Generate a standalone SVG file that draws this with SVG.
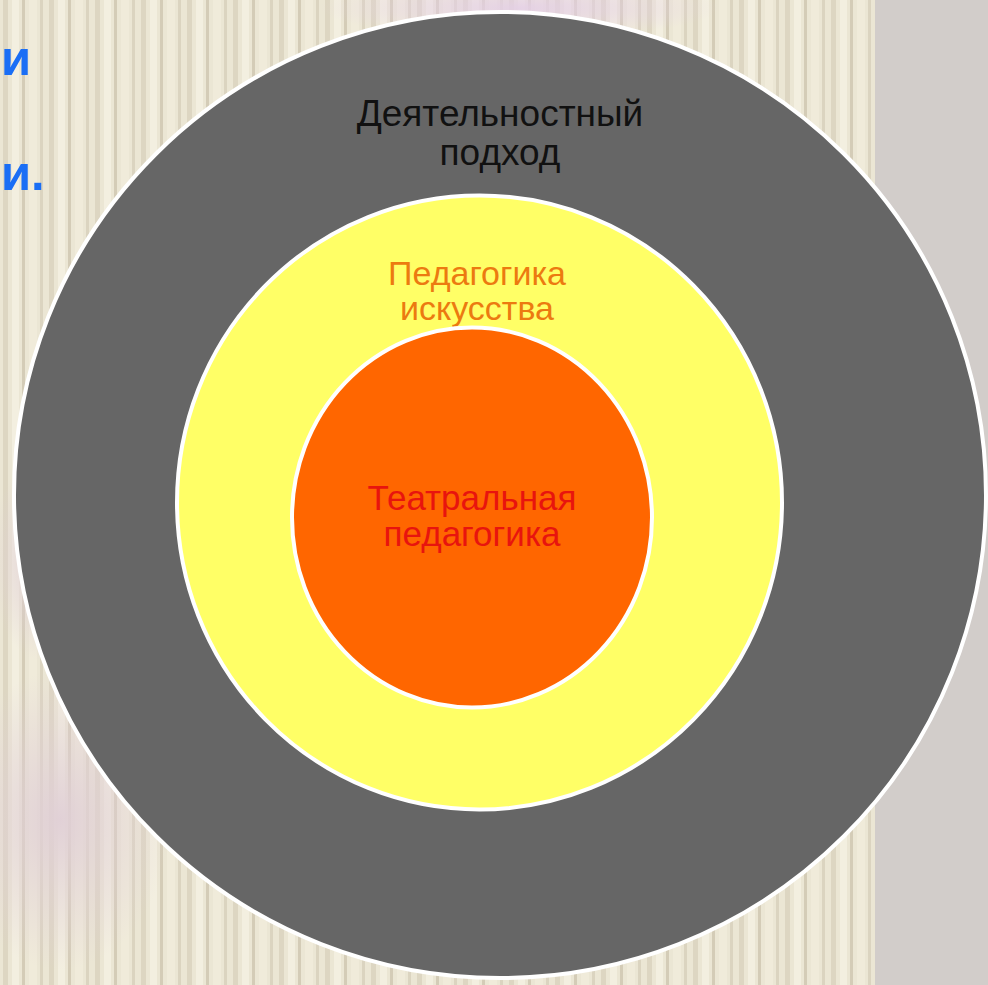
<svg xmlns="http://www.w3.org/2000/svg" width="988" height="985" viewBox="0 0 988 985">
<defs>
<style>
.lbl{font-family:"Liberation Sans",Arial,sans-serif;text-anchor:middle}
.ring{stroke:#ffffff;stroke-width:4}
.side{font-family:"Liberation Sans",Arial,sans-serif;font-weight:bold;font-size:49px;fill:#1a6ef5}
</style>
<pattern id="stripes" x="0" y="0" width="46" height="985" patternUnits="userSpaceOnUse">
<rect width="46" height="985" fill="#ebe6d4"/>
<rect x="3" width="5" height="985" fill="#ddd6c2"/>
<rect x="12" width="7" height="985" fill="#f3efe0"/>
<rect x="22" width="3" height="985" fill="#d4ccb7"/>
<rect x="29" width="8" height="985" fill="#f0ebda"/>
<rect x="40" width="3" height="985" fill="#dbd4c0"/>
</pattern>
<radialGradient id="pink" cx="0.5" cy="0.5" r="0.5">
<stop offset="0" stop-color="#e0cfd6" stop-opacity="0.95"/>
<stop offset="1" stop-color="#e0cfd6" stop-opacity="0"/>
</radialGradient>
<radialGradient id="lilac" cx="0.5" cy="0.5" r="0.5">
<stop offset="0" stop-color="#e4cfe6" stop-opacity="0.9"/>
<stop offset="1" stop-color="#e4cfe6" stop-opacity="0"/>
</radialGradient>
</defs>
<g id="background">
<rect width="988" height="985" fill="url(#stripes)"/>
<rect x="875" y="0" width="113" height="985" fill="#d2cdca"/>
<ellipse cx="60" cy="820" rx="110" ry="150" fill="url(#pink)"/>
<ellipse cx="40" cy="560" rx="50" ry="100" fill="url(#pink)"/>
<ellipse cx="520" cy="8" rx="200" ry="30" fill="url(#lilac)"/>
</g>
<g id="side-text">
<text class="side" x="1" y="75">и</text>
<text class="side" x="1" y="190">и.</text>
</g>
<g id="outer">
<ellipse class="ring" cx="500" cy="495" rx="486" ry="483" fill="#666666"/>
<text class="lbl" x="500" y="126" font-size="37" fill="#111111">Деятельностный</text>
<text class="lbl" x="500" y="165" font-size="37" fill="#111111">подход</text>
</g>
<g id="middle">
<ellipse class="ring" cx="479.5" cy="502.5" rx="302.5" ry="307" fill="#ffff66"/>
<text class="lbl" x="477" y="285" font-size="34" fill="#ec7a10">Педагогика</text>
<text class="lbl" x="477" y="320" font-size="34" fill="#ec7a10">искусства</text>
</g>
<g id="inner">
<ellipse class="ring" cx="472" cy="517.5" rx="180" ry="190" fill="#ff6600"/>
<text class="lbl" x="472" y="510" font-size="35" fill="#e8140e">Театральная</text>
<text class="lbl" x="472" y="546" font-size="35" fill="#e8140e">педагогика</text>
</g>
</svg>
